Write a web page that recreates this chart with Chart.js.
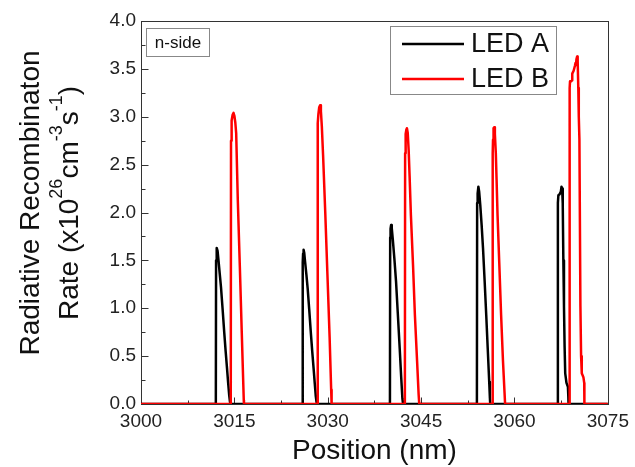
<!DOCTYPE html>
<html><head><meta charset="utf-8">
<script src="https://cdn.jsdelivr.net/npm/chart.js@4"></script>
<style>html,body{margin:0;padding:0;background:#fff}#wrap{width:635px;height:467px}</style>
</head><body><div id="wrap"><canvas id="c" width="635" height="467"></canvas></div>
<script>
const seriesNames = ['LED A', 'LED B'];

const positionA = [3000,
  3012.02,3012.06,3012.12,3012.2,3012.3,3012.45,3012.65,3012.85,3013.1,3013.38,3013.6,3013.81,3014.0,3014.17,3014.3,3014.4,
  3025.94,3025.98,3026.04,3026.12,3026.22,3026.37,3026.57,3026.77,3027.02,3027.3,3027.52,3027.73,3027.92,3028.08,3028.2,3028.3,
  3039.99,3040.03,3040.09,3040.18,3040.28,3040.45,3040.7,3040.97,3041.25,3041.56,3041.8,3041.99,3042.1,
  3053.96,3054.0,3054.08,3054.2,3054.32,3054.5,3054.72,3054.94,3055.2,3055.46,3055.7,3055.94,3056.05,3056.1,
  3066.93,3066.97,3067.05,3067.25,3067.45,3067.55,3067.65,3067.75,3067.85,3067.95,3068.05,3068.15,3068.35,3068.58,3068.65,3068.68,
  3075];
const rateA = [0,
  0,1.5,1.59,1.63,1.6,1.5,1.36,1.22,1.0,0.74,0.55,0.38,0.22,0.09,0.02,0,
  0,1.48,1.57,1.61,1.58,1.48,1.35,1.21,0.99,0.73,0.54,0.37,0.21,0.08,0.02,0,
  0,1.74,1.83,1.87,1.84,1.72,1.52,1.28,0.95,0.58,0.28,0.06,0,
  0,2.1,2.2,2.27,2.22,2.08,1.87,1.63,1.29,0.93,0.58,0.23,0.06,0,
  0,2.1,2.18,2.19,2.22,2.27,2.25,2.1,1.5,1.02,0.6,0.32,0.22,0.18,0.08,0,
  0];

const positionB = [3000,
  3014.42,3014.46,3014.52,3014.6,3014.72,3014.86,3015.0,3015.15,3015.29,3015.55,3015.88,3016.19,3016.51,3016.54,
  3028.32,3028.36,3028.42,3028.5,3028.63,3028.77,3028.9,3029.05,3029.25,3029.6,3029.95,3030.3,3030.55,3030.62,
  3042.39,3042.43,3042.48,3042.55,3042.64,3042.72,3042.85,3043.0,3043.15,3043.36,3043.7,3044.0,3044.35,3044.6,3044.7,
  3056.46,3056.5,3056.55,3056.6,3056.67,3056.74,3056.85,3057.0,3057.12,3057.28,3057.55,3057.85,3058.15,3058.4,3058.49,
  3068.82,3068.86,3068.92,3069.1,3069.25,3069.28,3069.5,3069.7,3069.8,3069.88,3069.95,3070.06,3070.15,3070.25,3070.33,3070.43,3070.59,3070.7,3070.81,3071.07,3071.2,3071.23,
  3075];
const rateB = [0,
  0,2.75,2.88,2.96,3.02,3.04,3.01,2.94,2.83,2.13,1.43,0.74,0.04,0,
  0,2.8,2.93,3.03,3.1,3.12,3.06,2.9,2.6,2.0,1.35,0.7,0.15,0,
  0,2.62,2.74,2.82,2.87,2.88,2.83,2.65,2.38,1.97,1.45,0.93,0.45,0.1,0,
  0,2.62,2.76,2.84,2.88,2.89,2.82,2.62,2.35,1.97,1.48,0.93,0.45,0.12,0,
  0,3.3,3.37,3.37,3.38,3.45,3.48,3.53,3.56,3.54,3.6,3.63,3.58,3.3,3.0,2.76,1.02,0.5,0.32,0.28,0.22,0,
  0];

const xTickValues = [3000, 3015, 3030, 3045, 3060, 3075];
const xMinorTicks = [3007.5, 3022.5, 3037.5, 3052.5, 3067.5];
const yTickValues = [0, 0.5, 1.0, 1.5, 2.0, 2.5, 3.0, 3.5, 4.0];
const yMinorTicks = [0.25, 0.75, 1.25, 1.75, 2.25, 2.75, 3.25, 3.75];
const xTitle = 'Position (nm)';
const yTitleLine1 = 'Radiative Recombinaton';
const yTitleLine2 = [['Rate (x10', false], ['26', true], ['cm', false], ['-3', true], ['s', false], ['-1', true], [')', false]];
const noteText = 'n-side';

const FONT = '"Liberation Sans", Arial, Helvetica, sans-serif';

const decor = {
  id: 'decor',
  beforeDatasetsDraw(chart) {
    const {ctx, chartArea: a, scales: {x, y}} = chart;
    ctx.save();
    ctx.strokeStyle = '#333';
    ctx.lineWidth = 1;
    const L = Math.round(a.left) + 0.5, R = Math.round(a.right) + 0.5;
    const T = Math.round(a.top) + 0.5, B = Math.round(a.bottom) + 0.5;
    ctx.strokeRect(L, T, R - L, B - T);
    ctx.beginPath();
    yTickValues.forEach(v => { const p = Math.round(y.getPixelForValue(v)) + 0.5; ctx.moveTo(L, p); ctx.lineTo(L + 7, p); });
    yMinorTicks.forEach(v => { const p = Math.round(y.getPixelForValue(v)) + 0.5; ctx.moveTo(L, p); ctx.lineTo(L + 4, p); });
    xTickValues.forEach(v => { const p = Math.round(x.getPixelForValue(v)) + 0.5; ctx.moveTo(p, B); ctx.lineTo(p, B - 7); });
    xMinorTicks.forEach(v => { const p = Math.round(x.getPixelForValue(v)) + 0.5; ctx.moveTo(p, B); ctx.lineTo(p, B - 4); });
    ctx.stroke();
    ctx.restore();
  },
  afterDatasetsDraw(chart) {
    const ctx = chart.ctx;
    ctx.save();
    ctx.fillStyle = '#fff';
    ctx.fillRect(146.5, 28.5, 63, 28);
    ctx.strokeStyle = '#888';
    ctx.lineWidth = 1;
    ctx.strokeRect(146.5, 28.5, 63, 28);
    ctx.fillStyle = '#111';
    ctx.font = '17px ' + FONT;
    ctx.textAlign = 'center';
    ctx.textBaseline = 'middle';
    ctx.fillText(noteText, 178, 43);
    ctx.fillStyle = '#fff';
    ctx.fillRect(390.5, 26.5, 166, 68);
    ctx.strokeStyle = '#888';
    ctx.strokeRect(390.5, 26.5, 166, 68);
    const rows = [44, 79];
    chart.data.datasets.slice().sort((p, q) => seriesNames.indexOf(p.label) - seriesNames.indexOf(q.label)).forEach((ds, i) => {
      ctx.strokeStyle = ds.borderColor;
      ctx.lineWidth = 2.5;
      ctx.beginPath();
      ctx.moveTo(402, rows[i]);
      ctx.lineTo(464, rows[i]);
      ctx.stroke();
      ctx.fillStyle = '#111';
      ctx.font = '27px ' + FONT;
      ctx.textAlign = 'left';
      ctx.textBaseline = 'middle';
      ctx.fillText(ds.label, 471, rows[i] + 1);
    });
    ctx.restore();
  },
  afterDraw(chart) {
    const ctx = chart.ctx;
    ctx.save();
    ctx.translate(0, 203);
    ctx.rotate(-Math.PI / 2);
    ctx.fillStyle = '#111';
    ctx.textBaseline = 'alphabetic';
    ctx.font = '28px ' + FONT;
    ctx.textAlign = 'center';
    ctx.fillText(yTitleLine1, 0, 39);
    ctx.textAlign = 'left';
    let total = 0;
    yTitleLine2.forEach(([t, sup]) => { ctx.font = (sup ? '18px ' : '28px ') + FONT; total += ctx.measureText(t).width; });
    let lx = -total / 2;
    yTitleLine2.forEach(([t, sup]) => {
      ctx.font = (sup ? '18px ' : '28px ') + FONT;
      ctx.fillText(t, lx, sup ? 62 : 78);
      lx += ctx.measureText(t).width;
    });
    ctx.restore();
  }
};

new Chart(document.getElementById('c'), {
  type: 'scatter',
  data: {
    datasets: [
      {label: seriesNames[0], data: positionA.map((v, i) => ({x: v, y: rateA[i]})), borderColor: '#000000', backgroundColor: '#000000', borderWidth: 2.5, showLine: true, pointRadius: 0, borderJoinStyle: 'round', order: 1},
      {label: seriesNames[1], data: positionB.map((v, i) => ({x: v, y: rateB[i]})), borderColor: '#ff0000', backgroundColor: '#ff0000', borderWidth: 2.5, showLine: true, pointRadius: 0, borderJoinStyle: 'round', order: 0}
    ]
  },
  options: {
    responsive: false, animation: false, devicePixelRatio: 1,
    layout: {padding: {left: 0, right: 23, top: 21, bottom: 0}},
    plugins: {legend: {display: false}, tooltip: {enabled: false}},
    scales: {
      x: {
        type: 'linear', min: 3000, max: 3075,
        grid: {display: false, drawTicks: false}, border: {display: false},
        afterBuildTicks: s => { s.ticks = xTickValues.map(v => ({value: v})); },
        afterFit: s => { s.height = 63; },
        ticks: {padding: 6, color: '#222', font: {family: FONT, size: 19}, maxRotation: 0, autoSkip: false, callback: v => String(v)},
        title: {display: true, text: xTitle, color: '#111', font: {family: FONT, size: 28, lineHeight: 1.1}, padding: {top: 0, bottom: 0}}
      },
      y: {
        type: 'linear', min: 0, max: 4,
        grid: {display: false, drawTicks: false}, border: {display: false},
        afterBuildTicks: s => { s.ticks = yTickValues.map(v => ({value: v})); },
        afterFit: s => { s.width = 141; },
        ticks: {padding: 5, color: '#222', font: {family: FONT, size: 19}, autoSkip: false, callback: v => Number(v).toFixed(1)}
      }
    }
  },
  plugins: [decor]
});
</script>
</body></html>
